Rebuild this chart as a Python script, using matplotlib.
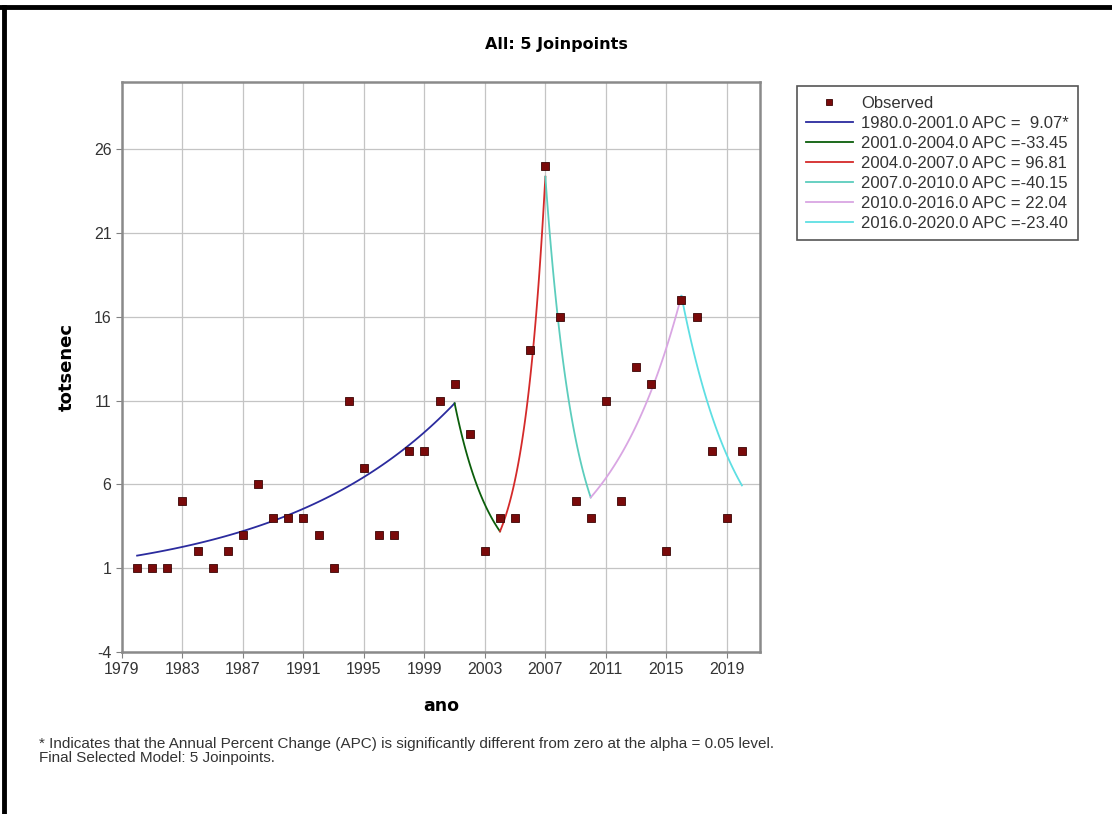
import numpy as np
import matplotlib.pyplot as plt
from matplotlib.lines import Line2D

plt.rcParams['axes.unicode_minus'] = False

# observed counts per year
years = np.arange(1980, 2021)
observed = [1, 1, 1, 5, 2, 1, 2, 3, 6, 4,
            4, 4, 3, 1, 11, 7, 3, 3, 8, 8,
            11, 12, 9, 2, 4, 4, 14, 25, 16, 5,
            4, 11, 5, 13, 12, 2, 17, 16, 8, 4,
            8]

# joinpoint model
joinpoints = [1980, 2001, 2004, 2007, 2010, 2016, 2020]
apc = [9.07, -33.45, 96.81, -40.15, 22.04, -23.40]
apc_text = ['  9.07*', '-33.45', ' 96.81', '-40.15', ' 22.04', '-23.40']
fit_start = 1.75
seg_colors = ['#2b2b9e', '#0b5e0b', '#d42a2a', '#5ccdbd', '#d9a6e3', '#5edfe3']

xticks = np.arange(1979, 2020, 4)
yticks = np.arange(-4, 27, 5)

narrow = ['Liberation Sans Narrow', 'Liberation Sans', 'DejaVu Sans']

fig = plt.figure(figsize=(11.12, 8.14), dpi=100)
ax = fig.add_axes([0.1097, 0.199, 0.5738, 0.7003])

ax.set_axisbelow(True)
ax.grid(True, color='#c4c4c4', linewidth=0.9)

start = fit_start
for i in range(len(apc)):
    a, b = joinpoints[i], joinpoints[i + 1]
    t = np.linspace(a, b, 80)
    y = start * (1 + apc[i] / 100.0) ** (t - a)
    ax.plot(t, y, color=seg_colors[i], linewidth=1.3,
            label=f'{a:.1f}-{b:.1f} APC ={apc_text[i]}')
    start = y[-1]

ax.plot(years, observed, linestyle='none', marker='s', markersize=6,
        markerfacecolor='#7a0a0a', markeredgecolor='#3a0505',
        markeredgewidth=0.6, label='Observed', zorder=5)

ax.set_xlim(1979, 2021.2)
ax.set_ylim(-4, 30)
ax.set_xticks(xticks)
ax.set_yticks(yticks)
ax.tick_params(length=4, color='#808080', labelcolor='#333333', labelsize=11.5)
for lab in ax.get_xticklabels() + ax.get_yticklabels():
    lab.set_family(narrow)
for sp in ax.spines.values():
    sp.set_color('#8a8a8a')
    sp.set_linewidth(1.8)

ax.set_xlabel('ano', fontsize=12.5, fontweight='bold', labelpad=14)
ax.set_ylabel('totsenec', fontsize=13, fontweight='bold', labelpad=13)

fig.text(0.5, 0.945, 'All: 5 Joinpoints', ha='center', va='center',
         fontsize=11.5, fontweight='bold')

handles, labels = ax.get_legend_handles_labels()
handles = [handles[-1]] + handles[:-1]
labels = [labels[-1]] + labels[:-1]
leg = fig.legend(handles, labels, loc='upper left', bbox_to_anchor=(0.709, 0.904),
                 prop={'family': narrow, 'size': 12}, handlelength=2.8,
                 labelspacing=0.3, borderpad=0.55, handletextpad=0.5,
                 fancybox=False, edgecolor='#555555', framealpha=1,
                 markerscale=0.7)
leg.get_frame().set_linewidth(1.2)
for txt in leg.get_texts():
    txt.set_color('#333333')

fig.text(0.035, 0.078,
         '* Indicates that the Annual Percent Change (APC) is significantly different '
         'from zero at the alpha = 0.05 level.\nFinal Selected Model: 5 Joinpoints.',
         fontsize=11, family=narrow, color='#333333', va='center', linespacing=1.0)

# outer frame (left and top edges)
fig.add_artist(Line2D([0.004, 0.004], [0.0, 0.992], transform=fig.transFigure,
                      color='black', linewidth=3.5))
fig.add_artist(Line2D([0.0, 1.0], [0.992, 0.992], transform=fig.transFigure,
                      color='black', linewidth=3.5))

fig.savefig('out.png', dpi=100)
